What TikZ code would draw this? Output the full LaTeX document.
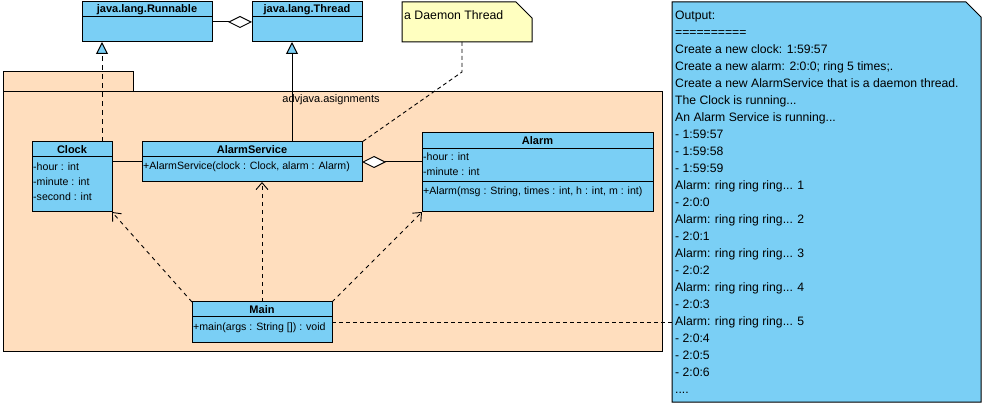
\documentclass[tikz,border=0pt]{standalone}
\usepackage{fontspec}
\setmainfont{Liberation Sans}
\usetikzlibrary{arrows.meta,calc}
\definecolor{clsblue}{RGB}{122,207,245}
\definecolor{pkgfill}{RGB}{255,222,190}
\definecolor{noteyel}{RGB}{255,255,192}
\begin{document}
\begin{tikzpicture}[x=1pt,y=-1pt,
  font=\fontsize{10.6}{13}\selectfont,
  cls/.style={draw=black, fill=clsblue, line width=1pt, rectangle, inner sep=0pt, outer sep=0pt},
  ttl/.style={font=\fontsize{11}{13}\selectfont\bfseries, inner sep=0pt},
  mem/.style={anchor=west, inner sep=0pt},
  notetxt/.style={anchor=west, inner sep=0pt, font=\fontsize{12.3}{15}\selectfont},
  holder/.style={inner sep=0pt, outer sep=0pt, rectangle},
  sep/.style={line width=1pt},
  plain/.style={line width=1pt},
  dep/.style={dash pattern=on 4pt off 4pt, line width=0.9pt, -{Straight Barb[length=7pt,width=12pt,line width=0.9pt]}},
  gen/.style={line width=1pt, -{Triangle[length=12pt,width=12pt,fill=clsblue,line width=1pt]}},
  real/.style={dash pattern=on 5pt off 4pt, line width=1pt, -{Triangle[length=12pt,width=12pt,fill=clsblue,line width=1pt]}},
  agg/.style={line width=1pt, -{Diamond[length=24pt,width=12pt,fill=white,line width=1pt]}},
  notelink/.style={dash pattern=on 4pt off 3pt, line width=0.9pt},
  outl/.style={anchor=base west, inner sep=0pt, font=\fontsize{12.2}{15}\selectfont}
]
\useasboundingbox (0,0) rectangle (986,406);

% package
\draw[plain, fill=pkgfill] (3,72) rectangle (133,92);
\draw[plain, fill=pkgfill] (3,92) rectangle (662,351);
\node[inner sep=0pt, font=\fontsize{11}{13}\selectfont] (pkglabel) at (331,100) {advjava.asignments};

% top classes
\node[cls, minimum width=130pt, minimum height=40pt] (runnable) at (147,22) {};
\draw[sep] (82,17) -- (212,17);
\node[ttl] (runnableT) at (147,9.5) {java.lang.Runnable};

\node[cls, minimum width=110pt, minimum height=40pt] (thread) at (307,22) {};
\draw[sep] (252,17) -- (362,17);
\node[ttl] (threadT) at (307,9.5) {java.lang.Thread};

% daemon note
\draw[plain, fill=noteyel] (402,2) -- (516,2) -- (532,18) -- (532,42) -- (402,42) -- cycle;
\node[holder, minimum width=130pt, minimum height=40pt] (daemon) at (467,22) {};
\node[notetxt] (daemonT) at (404,15) {a Daemon Thread};

% Clock
\node[cls, minimum width=80pt, minimum height=70pt] (clock) at (72,177) {};
\draw[sep] (32,157) -- (112,157);
\node[ttl] (clockT) at (72,149.5) {Clock};
\node[mem] (clock1) at (33,167) {-hour : int};
\node[mem] (clock2) at (33,182) {-minute : int};
\node[mem] (clock3) at (33,197) {-second : int};

% AlarmService
\node[cls, minimum width=220pt, minimum height=40pt] (alarmservice) at (252,162) {};
\draw[sep] (142,157) -- (362,157);
\node[ttl] (alarmserviceT) at (252,149.5) {AlarmService};
\node[mem] (alarmservice1) at (143,167) {+AlarmService(clock : Clock, alarm : Alarm)};

% Alarm
\node[cls, minimum width=231pt, minimum height=79pt] (alarm) at (537.5,172.5) {};
\draw[sep] (422,149) -- (653,149);
\draw[sep] (422,182) -- (653,182);
\node[ttl] (alarmT) at (537.5,141) {Alarm};
\node[mem] (alarm1) at (423,157) {-hour : int};
\node[mem] (alarm2) at (423,172) {-minute : int};
\node[mem] (alarm3) at (423,192) {+Alarm(msg : String, times : int, h : int, m : int)};

% Main
\node[cls, minimum width=140pt, minimum height=40pt] (main) at (262,322) {};
\draw[sep] (192,317) -- (332,317);
\node[ttl] (mainT) at (262,309.5) {Main};
\node[mem] (main1) at (193,328) {+main(args : String []) : void};

% output note
\draw[plain, fill=clsblue] (672,2) -- (966,2) -- (981,17) -- (981,402) -- (672,402) -- cycle;
\node[holder, minimum width=309pt, minimum height=400pt] (output) at (826.5,202) {};
\node[outl] (out0) at (675,19.5) {Output:};
\node[outl] (out1) at (675,36.5) {==========};
\node[outl] (out2) at (675,53.5) {Create a new clock: 1:59:57};
\node[outl] (out3) at (675,70.5) {Create a new alarm: 2:0:0; ring 5 times;.};
\node[outl] (out4) at (675,87.5) {Create a new AlarmService that is a daemon thread.};
\node[outl] (out5) at (675,104.5) {The Clock is running...};
\node[outl] (out6) at (675,121.5) {An Alarm Service is running...};
\node[outl] (out7) at (675,138.5) {- 1:59:57};
\node[outl] (out8) at (675,155.5) {- 1:59:58};
\node[outl] (out9) at (675,172.5) {- 1:59:59};
\node[outl] (out10) at (675,189.5) {Alarm: ring ring ring... 1};
\node[outl] (out11) at (675,206.5) {- 2:0:0};
\node[outl] (out12) at (675,223.5) {Alarm: ring ring ring... 2};
\node[outl] (out13) at (675,240.5) {- 2:0:1};
\node[outl] (out14) at (675,257.5) {Alarm: ring ring ring... 3};
\node[outl] (out15) at (675,274.5) {- 2:0:2};
\node[outl] (out16) at (675,291.5) {Alarm: ring ring ring... 4};
\node[outl] (out17) at (675,308.5) {- 2:0:3};
\node[outl] (out18) at (675,325.5) {Alarm: ring ring ring... 5};
\node[outl] (out19) at (675,342.5) {- 2:0:4};
\node[outl] (out20) at (675,359.5) {- 2:0:5};
\node[outl] (out21) at (675,376.5) {- 2:0:6};
\node[outl] (out22) at (675,393.5) {....};

% connectors
\draw[agg] (runnable.east) -- (thread.west);
\draw[real] ($(clock.north)+(30,0)$) -- ($(runnable.south)+(-45,0)$);
\draw[gen] ($(alarmservice.north)+(40,0)$) -- ($(thread.south)+(-15,0)$);
\draw[notelink] ($(daemon.south)+(-5,0)$) -- ++(0,30) -- (alarmservice.north east);
\draw[plain] (alarmservice.west -| clock.east) -- (alarmservice.west);
\draw[agg] (alarmservice.east -| alarm.west) -- (alarmservice.east);
\draw[dep] (main.north west) -- (clock.south east);
\draw[dep] (main.north) -- (main.north |- alarmservice.south);
\draw[dep] (main.north east) -- (alarm.south west);
\draw[notelink] (main.east) -- (main.east -| output.west);
\end{tikzpicture}
\end{document}
